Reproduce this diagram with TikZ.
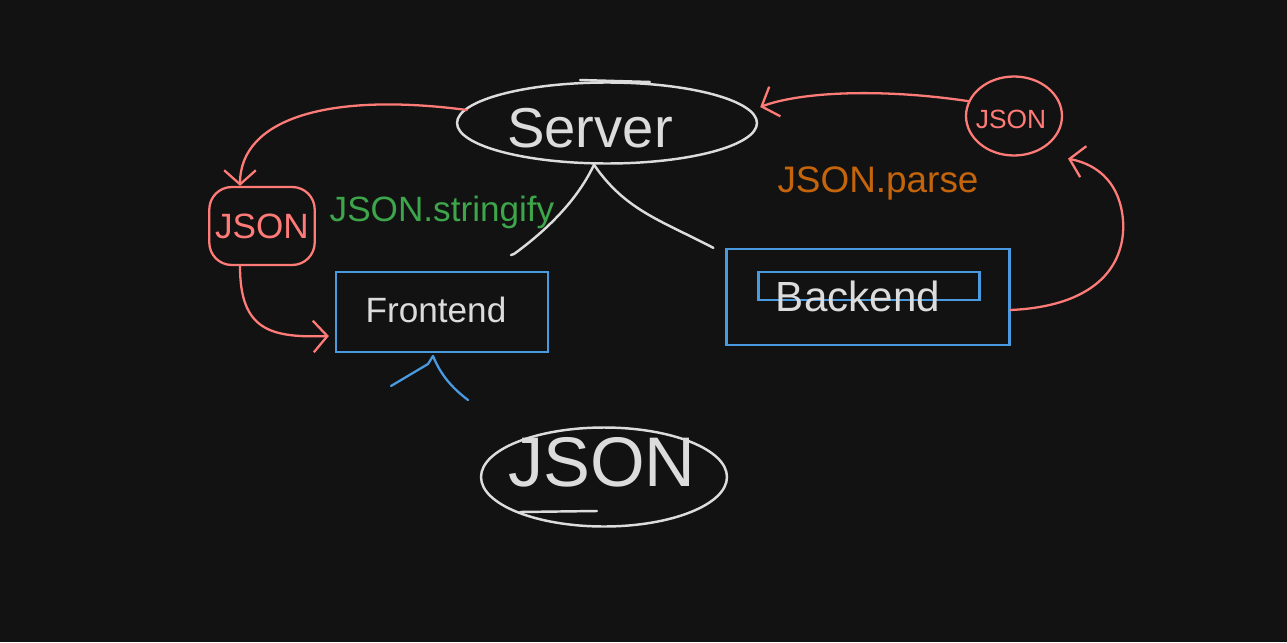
\documentclass[tikz,border=0pt]{standalone}
\usepackage{fontspec}
\setmainfont{Liberation Sans}
\usetikzlibrary{shapes.geometric,arrows.meta}
\definecolor{bgc}{HTML}{121212}
\definecolor{wht}{HTML}{DCDCDC}
\definecolor{salmon}{HTML}{FF7B78}
\definecolor{bl}{HTML}{4A9AE0}
\definecolor{grn}{HTML}{3DA54A}
\definecolor{org}{HTML}{C4650C}
\begin{document}
\begin{tikzpicture}[x=0.02cm,y=-0.02cm,
 wline/.style={draw=wht,line width=1.4pt,line cap=round},
 rline/.style={draw=salmon,line width=1.3pt,line cap=round},
 bline/.style={draw=bl,line width=1.3pt},
 rarrow/.style={rline,-{Straight Barb[length=8pt,width=18pt,line width=1.3pt]}},
 fs/.style={font=\fontsize{#1}{#1}\selectfont}]
\fill[bgc] (0,0) rectangle (1287,642);
\useasboundingbox (0,0) rectangle (1287,642);

% nodes
\node[ellipse,wline,minimum width=6cm,minimum height=1.62cm,inner sep=0pt] (server) at (607,123) {};
\node[text=wht,fs=32] (servertext) at (590,128) {Server};
\draw[wline] (580,80) -- (650,82);

\node[rectangle,rounded corners=0.45cm,rline,minimum width=2.1cm,minimum height=1.56cm,text=salmon,fs=20] (jl) at (262,226) {JSON};
\node[ellipse,rline,minimum width=1.92cm,minimum height=1.58cm,inner sep=0pt] (jr) at (1014,116) {};
\node[text=salmon,fs=15] (jrtext) at (1011,119) {JSON};

\node[rectangle,bline,minimum width=4.24cm,minimum height=1.6cm] (fe) at (442,312) {};
\node[text=wht,fs=20] (fetext) at (436,310) {Frontend};

\node[rectangle,bline,minimum width=5.66cm,minimum height=1.92cm] (be) at (868,297) {};
\node[rectangle,bline,minimum width=4.42cm,minimum height=0.56cm] (bein) at (869,286) {};
\node[text=wht,fs=24] (betext) at (858,296) {Backend};

\node[text=grn,fs=20] (strfy) at (442,212) {JSON.stringify};
\node[text=org,fs=21] (parse) at (878,183) {JSON.parse};

\node[ellipse,wline,minimum width=4.92cm,minimum height=1.98cm,inner sep=0pt] (jb) at (604,477) {};
\node[text=wht,fs=40] (jbtext) at (602,462) {JSON};
\draw[wline] (520,512) -- (597,511);

% white connectors from server
\coordinate (lend) at (514,254);
\draw[wline] (server.south -| 594,0) .. controls (575,205) and (540,235) .. (lend) -- (511,255);
\draw[wline] (server.south -| 594,0) .. controls (625,210) and (660,220) .. ([xshift=-0.24cm]be.north west);

% blue wedge under frontend
\coordinate (apex) at (433,356);
\draw[bline,line cap=round] (apex) .. controls (442,378) and (455,390) .. (468,400);
\draw[bline,line cap=round] (391,386) -- (428,364) -- (apex);

% red arrows
\draw[rarrow] ([xshift=0.22cm,yshift=0.26cm]server.west) .. controls (330,92) and (240,118) .. ([xshift=-0.44cm]jl.north);
\draw[rarrow] ([xshift=-0.44cm]jl.south) .. controls (240,330) and (270,338) .. ([xshift=-0.12cm,yshift=-0.48cm]fe.west);
\draw[rarrow] (jr.162) .. controls (880,88) and (800,92) .. ([xshift=0.04cm,yshift=0.32cm]server.east);
\draw[rarrow] ([yshift=-0.26cm]be.east) .. controls (1100,306) and (1126,262) .. (1123,220) .. controls (1120,185) and (1100,165) .. ([xshift=1.08cm,yshift=-0.04cm]jr.south);
\end{tikzpicture}
\end{document}
